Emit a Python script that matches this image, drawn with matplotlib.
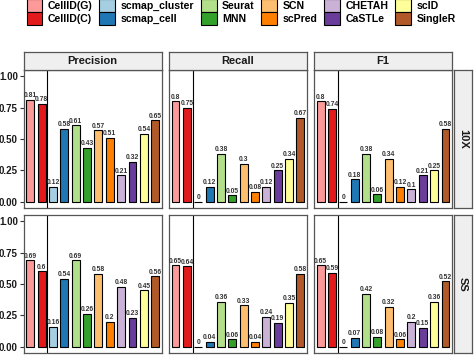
import numpy as np
import matplotlib.pyplot as plt
from matplotlib.patches import Patch

plt.rcParams["font.family"] = ["Liberation Sans", "DejaVu Sans"]

## data
methods = ["CellID(G)", "CellID(C)", "scmap_cluster", "scmap_cell", "Seurat", "MNN",
           "SCN", "scPred", "CHETAH", "CaSTLe", "scID", "SingleR"]
colors = ["#FB9A99", "#E31A1C", "#A6CEE3", "#1F78B4", "#B2DF8A", "#33A02C",
          "#FDBF6F", "#FF7F00", "#CAB2D6", "#6A3D9A", "#FFFF99", "#B15928"]
metrics = ["Precision", "Recall", "F1"]
datasets = ["10X", "SS"]

precision_10x = [0.81, 0.78, 0.12, 0.58, 0.61, 0.43, 0.57, 0.51, 0.21, 0.32, 0.54, 0.65]
recall_10x = [0.8, 0.75, 0, 0.12, 0.38, 0.05, 0.3, 0.08, 0.12, 0.25, 0.34, 0.67]
f1_10x = [0.8, 0.74, 0, 0.18, 0.38, 0.06, 0.34, 0.12, 0.1, 0.21, 0.25, 0.58]
precision_ss = [0.69, 0.6, 0.16, 0.54, 0.69, 0.26, 0.58, 0.2, 0.48, 0.23, 0.45, 0.56]
recall_ss = [0.65, 0.64, 0, 0.04, 0.36, 0.06, 0.33, 0.04, 0.24, 0.19, 0.35, 0.58]
f1_ss = [0.65, 0.59, 0, 0.07, 0.42, 0.08, 0.32, 0.06, 0.2, 0.15, 0.36, 0.52]

values = {
    ("10X", "Precision"): precision_10x,
    ("10X", "Recall"): recall_10x,
    ("10X", "F1"): f1_10x,
    ("SS", "Precision"): precision_ss,
    ("SS", "Recall"): recall_ss,
    ("SS", "F1"): f1_ss,
}

## layout (pixels)
W, H = 474, 355
fig = plt.figure(figsize=(W / 100, H / 100), dpi=100)


def px_axes(x, y, w, h):
    return fig.add_axes([x / W, 1 - (y + h) / H, w / W, h / H])


col_x = [23.5, 168.7, 313.8]
pw = 138.5
row_y = [70, 215]
ph = 138
border = "#555555"
strip_fill = "#EFEFEF"


def strip(x, y, w, h, text, rot=0):
    s = px_axes(x, y, w, h)
    s.set_facecolor(strip_fill)
    s.set_xticks([])
    s.set_yticks([])
    for sp in s.spines.values():
        sp.set_color(border)
        sp.set_linewidth(0.9)
    s.text(0.5, 0.5, text, ha="center", va="center", rotation=rot,
           fontsize=8, fontweight="bold", color="#1a1a1a", transform=s.transAxes)


x = np.arange(1, len(methods) + 1)
for r, ds in enumerate(datasets):
    for c, m in enumerate(metrics):
        ax = px_axes(col_x[c], row_y[r], pw, ph)
        vals = values[(ds, m)]
        ax.bar(x, vals, width=0.7, color=colors, edgecolor="black", linewidth=0.8)
        for xi, v in zip(x, vals):
            ax.text(xi, v + 0.005, f"{v:g}", ha="center", va="bottom",
                    fontsize=4.9, fontweight="bold", color="#333333")
        ax.axvline(2.5, color="black", linewidth=0.8)
        ax.set_xlim(0.4, 12.6)
        ax.set_ylim(-0.05, 1.05)
        ax.set_xticks([])
        for sp in ax.spines.values():
            sp.set_color(border)
            sp.set_linewidth(0.9)
        if c == 0:
            ax.set_yticks([0, 0.25, 0.5, 0.75, 1.0])
            ax.set_yticklabels(["0.00", "0.25", "0.50", "0.75", "1.00"],
                               fontsize=7, fontweight="bold", color="#1a1a1a")
            ax.tick_params(axis="y", length=3, width=0.8, color="#333333", pad=1)
        else:
            ax.set_yticks([])
        if r == 0:
            strip(col_x[c], 52, pw, 18, m)
    strip(454, row_y[r], 18, ph, ds, rot=270)

## legend
handles = [Patch(facecolor=col, edgecolor="black", linewidth=0.8) for col in colors]
fig.legend(handles, methods, ncol=6, loc="upper center",
           bbox_to_anchor=(241 / W, 1 + 1 / H), frameon=False,
           prop={"size": 7.6, "weight": "bold"},
           handlelength=1.5, handleheight=1.5, handletextpad=0.5,
           columnspacing=0.65, labelspacing=0.05, borderaxespad=0, borderpad=0)

fig.savefig("out.png", dpi=100)
